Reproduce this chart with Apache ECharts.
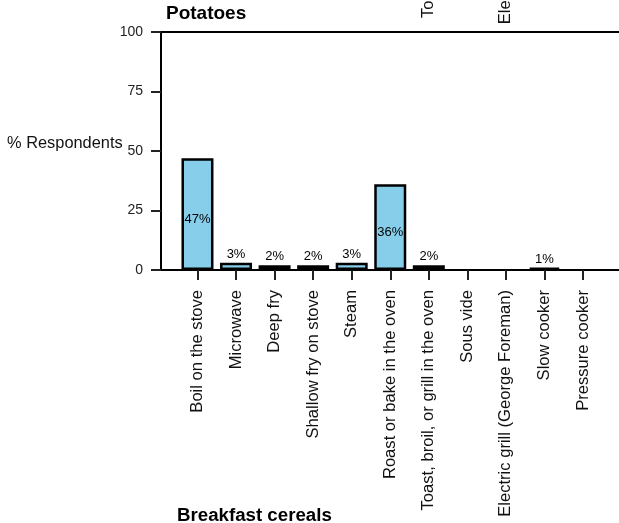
<!DOCTYPE html>
<html>
<head>
<meta charset="utf-8">
<script src="https://cdn.jsdelivr.net/npm/echarts@6/dist/echarts.min.js"></script>
<style>
html,body{margin:0;padding:0;background:#fff;}
#chart{width:619px;height:523px;}
</style>
</head>
<body>
<div id="chart"></div>
<script>
const categories = [
  "Boil on the stove",
  "Microwave",
  "Deep fry",
  "Shallow fry on stove",
  "Steam",
  "Roast or bake in the oven",
  "Toast, broil, or grill in the oven",
  "Sous vide",
  "Electric grill (George Foreman)",
  "Slow cooker",
  "Pressure cooker"
];
const values = [47, 3, 2, 2, 3, 36, 2, 0, 0, 1, 0];
const yTicks = [0, 25, 50, 75, 100];
const panelTitle = "Potatoes";
const nextPanelTitle = "Breakfast cereals";
const yAxisName = "% Respondents";

const FONT = "Liberation Sans, Arial, Helvetica, sans-serif";

const barData = values.map(function (v) {
  let label;
  if (v === 0) {
    label = { show: false };
  } else if (v >= 10) {
    label = { show: true, position: "inside", offset: [0, 5] };
  } else {
    label = { show: true, position: "top", distance: 2 };
  }
  const item = { value: v, label: label };
  if (v === 0) item.itemStyle = { borderWidth: 0 };
  return item;
});

const chart = echarts.init(document.getElementById("chart"), null, { renderer: "canvas" });

chart.setOption({
  animation: false,
  backgroundColor: "#ffffff",
  title: [
    {
      text: panelTitle,
      left: 161,
      top: -1,
      textStyle: { fontFamily: FONT, fontSize: 19, fontWeight: "bold", color: "#000" }
    },
    {
      text: nextPanelTitle,
      left: 172,
      top: 501,
      textStyle: { fontFamily: FONT, fontSize: 18.7, fontWeight: "bold", color: "#000" }
    },
    {
      text: yAxisName,
      left: 2,
      top: 130,
      textStyle: { fontFamily: FONT, fontSize: 16.4, fontWeight: "normal", color: "#111" }
    }
  ],
  grid: [
    { left: 161, right: 0, top: 32, bottom: 253, containLabel: false },
    { left: 178.2, right: 16.7, top: 32, bottom: 253, containLabel: false },
    { left: 178.2, right: 16.7, top: -400, height: 142, containLabel: false }
  ],
  xAxis: [
    {
      type: "value", gridIndex: 0, position: "bottom", min: 0, max: 1,
      axisLine: { show: true, lineStyle: { color: "#000", width: 2 } },
      axisTick: { show: false }, axisLabel: { show: false }, splitLine: { show: false }
    },
    {
      type: "value", gridIndex: 0, position: "top", min: 0, max: 1,
      axisLine: { show: true, lineStyle: { color: "#000", width: 2 } },
      axisTick: { show: false }, axisLabel: { show: false }, splitLine: { show: false }
    },
    {
      type: "category", gridIndex: 1, data: categories, position: "bottom",
      axisLine: { show: false },
      axisTick: { show: true, alignWithLabel: true, length: 10, lineStyle: { color: "#222", width: 2 } },
      axisLabel: {
        rotate: 90, margin: 20, interval: 0,
        fontFamily: FONT, fontSize: 16.6, color: "#111"
      },
      splitLine: { show: false }
    },
    {
      type: "category", gridIndex: 2, data: categories, position: "bottom",
      axisLine: { show: false },
      axisTick: { show: false },
      axisLabel: {
        rotate: 90, margin: 20, interval: 0,
        fontFamily: FONT, fontSize: 16.6, color: "#111"
      },
      splitLine: { show: false }
    }
  ],
  yAxis: [
    {
      type: "value", gridIndex: 0, min: 0, max: 100, interval: 25,
      axisLine: { show: true, lineStyle: { color: "#000", width: 2 } },
      axisTick: { show: true, length: 10, lineStyle: { color: "#222", width: 2 } },
      axisLabel: {
        margin: 18, fontFamily: FONT, fontSize: 14, color: "#222",
        formatter: function (v) { return yTicks.indexOf(v) >= 0 ? String(v) : ""; }
      },
      splitLine: { show: false }
    },
    { type: "value", gridIndex: 1, min: 0, max: 100, show: false },
    { type: "value", gridIndex: 2, min: 0, max: 100, show: false }
  ],
  series: [
    {
      type: "bar",
      xAxisIndex: 2,
      yAxisIndex: 1,
      data: barData,
      barWidth: 32,
      itemStyle: { color: "#87CEEB", borderColor: "#000", borderWidth: 2.5 },
      label: {
        formatter: "{c}%",
        fontFamily: FONT, fontSize: 13, color: "#000"
      }
    }
  ]
});
</script>
</body>
</html>
